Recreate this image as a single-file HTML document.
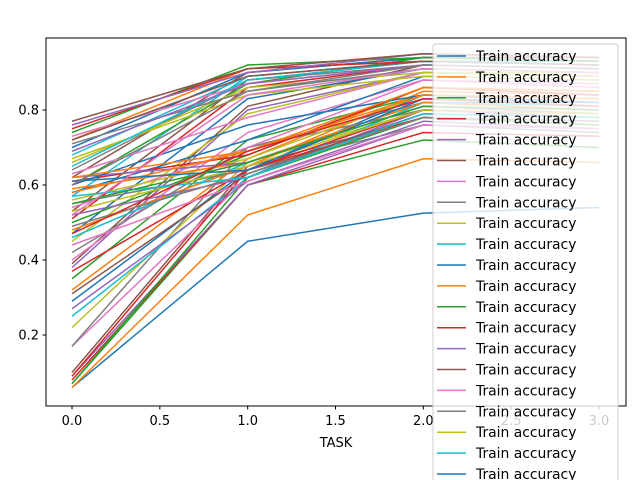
<!DOCTYPE html>
<html><head><meta charset="utf-8"><style>
body{margin:0;background:#fff;}
svg{display:block;font-family:"DejaVu Sans","Liberation Sans",sans-serif;}
</style></head><body>
<svg id="chart" width="640" height="480" viewBox="0 0 640 480">
<rect x="0" y="0" width="640" height="480" fill="#fff"/>
<g id="lines"></g>
<rect x="46" y="38" width="580" height="368" fill="none" stroke="#000" stroke-width="1"/>
<g id="ticks"></g>
<text x="336" y="447" font-size="13" text-anchor="middle">TASK</text>
<g id="legend"></g>
</svg>
<script>
const xCategories = [0, 1, 2, 3];
const xTickLabels = ["0.0","0.5","1.0","1.5","2.0","2.5","3.0"];
const yTickLabels = ["0.2","0.4","0.6","0.8"];
const seriesValues = [
[0.06,0.45,0.525,0.54],[0.06,0.52,0.67,0.66],[0.07,0.60,0.72,0.70],[0.08,0.60,0.74,0.73],
[0.09,0.60,0.76,0.75],[0.10,0.65,0.78,0.77],[0.17,0.62,0.80,0.79],[0.17,0.70,0.82,0.80],
[0.22,0.66,0.80,0.78],[0.25,0.62,0.82,0.81],[0.29,0.64,0.84,0.83],[0.32,0.67,0.86,0.85],
[0.35,0.72,0.84,0.83],[0.37,0.64,0.78,0.76],[0.38,0.80,0.90,0.89],[0.39,0.81,0.92,0.91],
[0.40,0.74,0.88,0.86],[0.42,0.70,0.80,0.79],[0.45,0.79,0.90,0.90],[0.46,0.66,0.82,0.82],
[0.47,0.83,0.91,0.90],[0.48,0.65,0.85,0.84],[0.50,0.68,0.86,0.85],[0.51,0.86,0.92,0.91],
[0.52,0.62,0.80,0.78],[0.53,0.88,0.93,0.92],[0.54,0.70,0.88,0.87],[0.55,0.64,0.76,0.74],
[0.56,0.67,0.84,0.83],[0.57,0.89,0.93,0.93],[0.58,0.72,0.89,0.88],[0.59,0.66,0.82,0.80],
[0.60,0.87,0.94,0.93],[0.61,0.68,0.86,0.84],[0.62,0.66,0.81,0.79],[0.62,0.90,0.94,0.94],
[0.63,0.78,0.90,0.89],[0.64,0.88,0.92,0.91],[0.66,0.86,0.90,0.89],[0.68,0.89,0.93,0.92],
[0.70,0.90,0.94,0.93],[0.72,0.91,0.95,0.94],[0.74,0.92,0.94,0.93],[0.75,0.91,0.93,0.92],
[0.76,0.90,0.95,0.94],[0.77,0.91,0.95,0.94],[0.73,0.87,0.92,0.91],[0.71,0.85,0.91,0.90],
[0.67,0.84,0.89,0.88],[0.65,0.88,0.93,0.92],[0.60,0.76,0.84,0.82],[0.58,0.69,0.86,0.85],
[0.07,0.62,0.78,0.76],[0.09,0.64,0.80,0.79],[0.27,0.61,0.77,0.75],[0.31,0.63,0.79,0.78],
[0.44,0.61,0.76,0.75],[0.49,0.63,0.78,0.77],[0.53,0.65,0.80,0.79],[0.57,0.62,0.79,0.78],
[0.61,0.64,0.83,0.82],[0.62,0.69,0.84,0.83],[0.55,0.66,0.81,0.80],[0.47,0.69,0.83,0.81],
[0.69,0.87,0.92,0.91],[0.72,0.89,0.93,0.92],[0.52,0.84,0.91,0.90],[0.60,0.85,0.92,0.91]
];
const legendLabels = Array(21).fill("Train accuracy");
const colors = ["#1f77b4","#ff7f0e","#2ca02c","#d62728","#9467bd","#8c564b","#e377c2","#7f7f7f","#bcbd22","#17becf"];
const NS = "http://www.w3.org/2000/svg";
function xs(v){ return 72 + v*175.67; }
function ys(v){ return 410 - v*375; }
const lines = document.getElementById('lines');
seriesValues.forEach((s,i)=>{
  const p = document.createElementNS(NS,'polyline');
  p.setAttribute('points', s.map((v,j)=>xs(xCategories[j])+','+ys(v)).join(' '));
  p.setAttribute('fill','none');
  p.setAttribute('stroke',colors[i%10]);
  p.setAttribute('stroke-width','1.5');
  
  
  lines.appendChild(p);
});
const ticks = document.getElementById('ticks');
xTickLabels.forEach(l=>{
  const x = xs(parseFloat(l));
  const t = document.createElementNS(NS,'line');
  t.setAttribute('x1',x);t.setAttribute('x2',x);t.setAttribute('y1',406);t.setAttribute('y2',409.5);
  t.setAttribute('stroke','#000');
  
  
  ticks.appendChild(t);
  const tx = document.createElementNS(NS,'text');
  tx.setAttribute('x',x);tx.setAttribute('y',425);tx.setAttribute('font-size','13');tx.setAttribute('text-anchor','middle');
  tx.textContent = l;
  
  
  ticks.appendChild(tx);
});
yTickLabels.forEach(l=>{
  const y = ys(parseFloat(l));
  const t = document.createElementNS(NS,'line');
  t.setAttribute('x1',42.5);t.setAttribute('x2',46);t.setAttribute('y1',y);t.setAttribute('y2',y);
  t.setAttribute('stroke','#000');
  
  
  ticks.appendChild(t);
  const tx = document.createElementNS(NS,'text');
  tx.setAttribute('x',39);tx.setAttribute('y',y+4.5);tx.setAttribute('font-size','13');tx.setAttribute('text-anchor','end');
  tx.textContent = l;
  
  
  ticks.appendChild(tx);
});
const lg = document.getElementById('legend');
const box = document.createElementNS(NS,'rect');
box.setAttribute('x',433);box.setAttribute('y',44);box.setAttribute('width',185);box.setAttribute('height',460);
box.setAttribute('rx',3);box.setAttribute('fill','#fff');box.setAttribute('fill-opacity','0.8');box.setAttribute('stroke','#ccc');


lg.appendChild(box);
legendLabels.forEach((l,i)=>{
  const y = 56 + i*20.9;
  const ln = document.createElementNS(NS,'line');
  ln.setAttribute('x1',437);ln.setAttribute('x2',466);ln.setAttribute('y1',y);ln.setAttribute('y2',y);
  ln.setAttribute('stroke',colors[i%10]);ln.setAttribute('stroke-width','1.5');
  
  
  lg.appendChild(ln);
  const tx = document.createElementNS(NS,'text');
  tx.setAttribute('x',476);tx.setAttribute('y',y+5);tx.setAttribute('font-size','13.9');
  tx.textContent = l;
  
  
  lg.appendChild(tx);
});
</script>
</body></html>
